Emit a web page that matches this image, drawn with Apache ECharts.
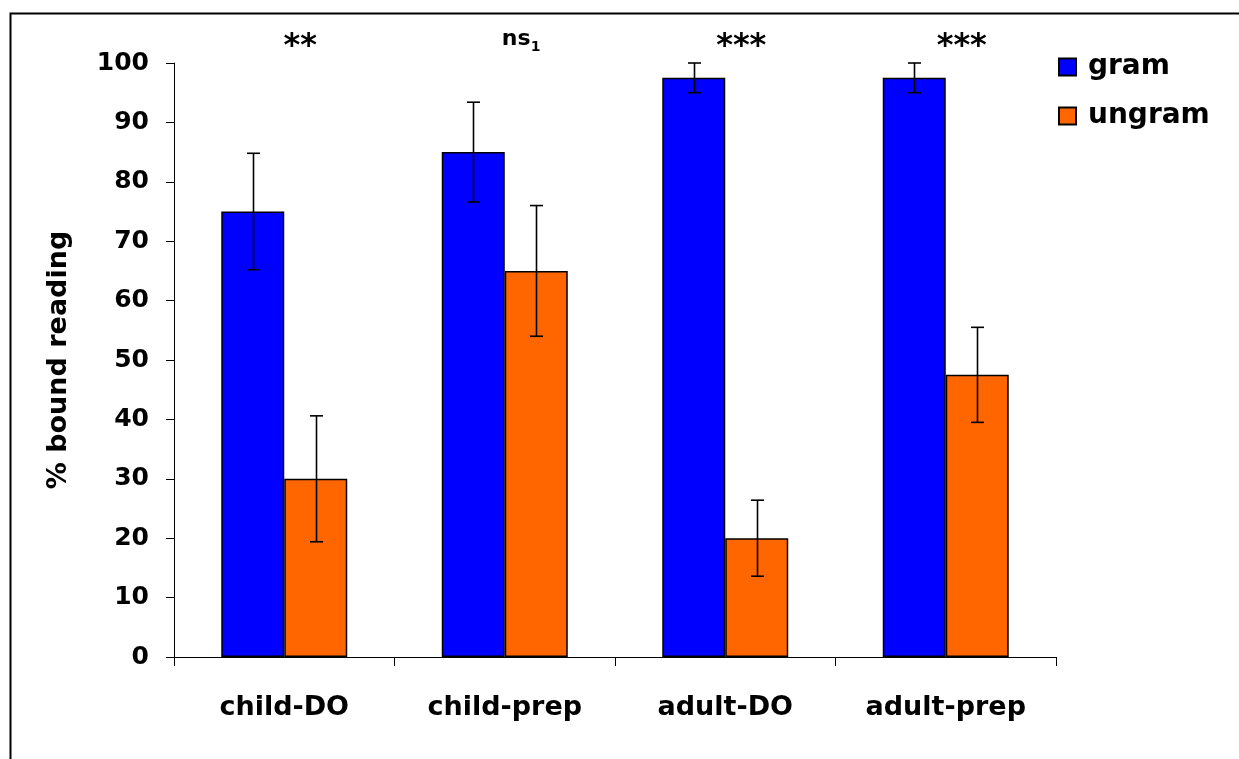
<!DOCTYPE html>
<html>
<head>
<meta charset="utf-8">
<script src="https://cdn.jsdelivr.net/npm/echarts@6/dist/echarts.min.js"></script>
<style>
  html, body { margin: 0; padding: 0; background: #fff; }
  #chart { width: 1239px; height: 759px; }
</style>
</head>
<body>
<div id="chart"></div>
<script>
// Conditions and measured values
const categories = ['child-DO', 'child-prep', 'adult-DO', 'adult-prep'];
const gram = [75, 85, 97.5, 97.5];
const ungram = [30, 65, 20, 47.5];
// Half-length of each error bar (same order as the categories)
const gramErr = [9.8, 8.4, 2.5, 2.5];
const ungramErr = [10.6, 11, 6.4, 8];
// Significance marks above each condition
const sigLabels = ['**', 'ns', '***', '***'];
const sigSub = ['', '1', '', ''];
const yTicks = [0, 10, 20, 30, 40, 50, 60, 70, 80, 90, 100];

const FONT = '"DejaVu Sans", "Liberation Sans", Arial, sans-serif';
const BAR_FRAC = 0.2857; // bar width as a share of the category band

const chart = echarts.init(document.getElementById('chart'), null, { renderer: 'canvas' });

function errorSeries(name, values, errs, side) {
  return {
    name: name + '-err',
    type: 'custom',
    z: 10,
    data: values.map((v, i) => [i, v, errs[i]]),
    renderItem: function (params, api) {
      const i = api.value(0);
      const v = api.value(1);
      const e = api.value(2);
      const band = api.size([1, 0])[0];
      const dx = side * band * BAR_FRAC / 2;
      const top = api.coord([i, v + e]);
      const bot = api.coord([i, v - e]);
      const x = Math.round(top[0] + dx) + 0.5;
      const cap = 6.5;
      const style = { stroke: '#000', lineWidth: 1.6 };
      return {
        type: 'group',
        children: [
          { type: 'line', shape: { x1: x, y1: top[1], x2: x, y2: bot[1] }, style },
          { type: 'line', shape: { x1: x - cap, y1: top[1], x2: x + cap, y2: top[1] }, style },
          { type: 'line', shape: { x1: x - cap, y1: bot[1], x2: x + cap, y2: bot[1] }, style }
        ]
      };
    }
  };
}

const option = {
  backgroundColor: '#fff',
  animation: false,
  textStyle: { fontFamily: FONT },
  grid: { left: 174, top: 63, width: 882, height: 594, containLabel: false },
  legend: {
    orient: 'vertical',
    left: 1058,
    top: 52,
    padding: 0,
    itemWidth: 17,
    itemHeight: 17,
    itemGap: 19,
    icon: 'rect',
    data: ['gram', 'ungram'],
    textStyle: { fontFamily: FONT, fontWeight: 'bold', fontSize: 28, lineHeight: 30, color: '#000', padding: [0, 0, 0, 7] }
  },
  xAxis: {
    type: 'category',
    data: categories,
    axisLine: { lineStyle: { color: '#000', width: 1 } },
    axisTick: { show: true, length: 9, lineStyle: { color: '#000' } },
    axisLabel: { fontFamily: FONT, fontWeight: 'bold', fontSize: 27, color: '#000', margin: 37 },
    splitLine: { show: false }
  },
  yAxis: {
    type: 'value',
    min: yTicks[0],
    max: yTicks[yTicks.length - 1],
    interval: 10,
    name: '% bound reading',
    nameLocation: 'middle',
    nameGap: 102,
    nameRotate: 90,
    nameTextStyle: { fontFamily: FONT, fontWeight: 'bold', fontSize: 27, color: '#000' },
    axisLine: { show: true, lineStyle: { color: '#000', width: 1 } },
    axisTick: { show: true, length: 8, lineStyle: { color: '#000' } },
    axisLabel: { fontFamily: FONT, fontWeight: 'bold', fontSize: 25, color: '#000', margin: 25 },
    splitLine: { show: false }
  },
  series: [
    {
      name: 'gram',
      type: 'bar',
      data: gram,
      barWidth: (BAR_FRAC * 100) + '%',
      barGap: '0%',
      itemStyle: { color: '#0000FF', borderColor: '#000', borderWidth: 1.5 }
    },
    {
      name: 'ungram',
      type: 'bar',
      data: ungram,
      barWidth: (BAR_FRAC * 100) + '%',
      barGap: '0%',
      itemStyle: { color: '#FF6600', borderColor: '#000', borderWidth: 1.5 }
    },
    errorSeries('gram', gram, gramErr, -1),
    errorSeries('ungram', ungram, ungramErr, 1)
  ]
};

chart.setOption(option);

// Outer frame and significance marks, placed from the axis scales
const graphics = [
  {
    type: 'rect',
    shape: { x: 10.5, y: 13.5, width: 1300, height: 800 },
    style: { fill: null, stroke: '#000', lineWidth: 2 },
    silent: true,
    z: 100
  }
];
sigLabels.forEach((lab, i) => {
  const p = chart.convertToPixel({ gridIndex: 0 }, [i, 100]);
  const cx = p[0] + 16;
  if (sigSub[i]) {
    graphics.push({
      type: 'text',
      x: cx - 19, y: 50,
      style: {
        text: lab,
        fontFamily: FONT, fontWeight: 'bold', fontSize: 22, fill: '#000',
        textAlign: 'left', textVerticalAlign: 'bottom'
      }
    });
    graphics.push({
      type: 'text',
      x: cx + 10, y: 54,
      style: {
        text: sigSub[i],
        fontFamily: FONT, fontWeight: 'bold', fontSize: 14, fill: '#000',
        textAlign: 'left', textVerticalAlign: 'bottom'
      }
    });
  } else {
    graphics.push({
      type: 'text',
      x: cx, y: 47,
      style: {
        text: lab,
        fontFamily: FONT, fontWeight: 'bold', fontSize: 32, fill: '#000',
        textAlign: 'center', textVerticalAlign: 'middle'
      }
    });
  }
});
chart.setOption({ graphic: graphics });
</script>
</body>
</html>
